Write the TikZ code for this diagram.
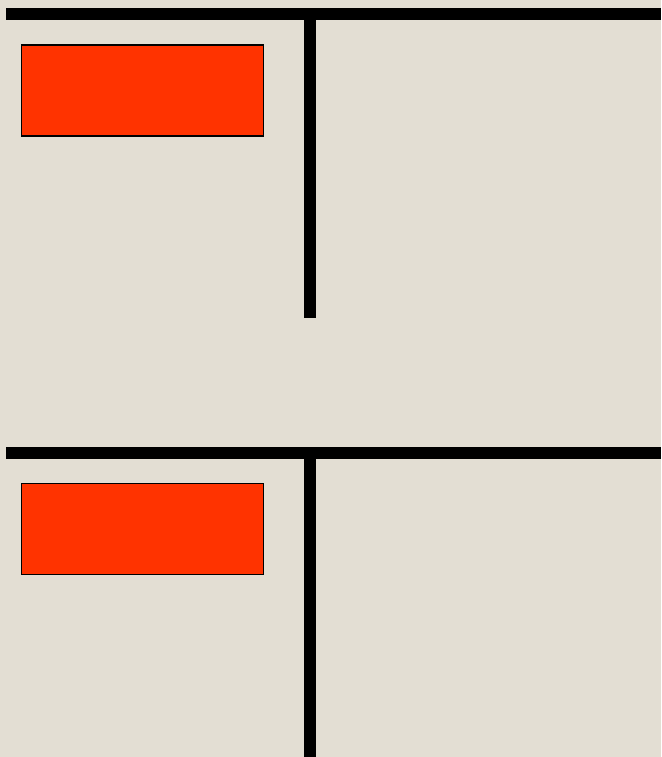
\documentclass[tikz,border=0pt]{standalone}
\definecolor{bgcol}{RGB}{227,222,211}
\definecolor{redcol}{RGB}{255,51,0}
\begin{document}
\begin{tikzpicture}[x=1pt,y=-1pt,
  bar/.style={fill=black,draw=none},
  redbox/.style={fill=redcol,draw=black,line width=1.3pt,minimum width=242pt,minimum height=91pt,inner sep=0pt,anchor=north west}]
\fill[bgcol] (0,0) rectangle (661,757);
\useasboundingbox (0,0) rectangle (661,757);
% top panel
\fill[bar] (6,8) rectangle (661,20);
\fill[bar] (304,20) rectangle (316,318);
\node[redbox] (r1) at (21,44.3) {};
% bottom panel
\fill[bar] (6,446.5) rectangle (661,458.5);
\fill[bar] (304,458.5) rectangle (316,757);
\node[redbox] (r2) at (21,482.7) {};
\end{tikzpicture}
\end{document}
